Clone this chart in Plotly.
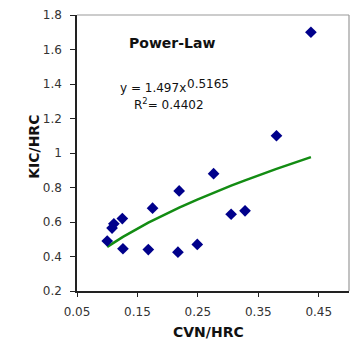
import numpy as np
import plotly.graph_objects as go

cvn_hrc = [0.100, 0.108, 0.111, 0.125, 0.126, 0.168, 0.175, 0.217, 0.219, 0.249,
           0.276, 0.305, 0.328, 0.380, 0.437]
kic_hrc = [0.49, 0.565, 0.59, 0.62, 0.445, 0.44, 0.68, 0.425, 0.78, 0.47,
           0.88, 0.645, 0.665, 1.10, 1.70]
fit_a = 1.497
fit_b = 0.5165
fit_r2 = 0.4402

xs = np.array(sorted(cvn_hrc))
trend = fit_a * xs ** fit_b

fig = go.Figure()
fig.add_trace(go.Scatter(x=xs, y=trend, mode="lines",
                         line=dict(color="#138c13", width=2.5), hoverinfo="skip"))
fig.add_trace(go.Scatter(x=cvn_hrc, y=kic_hrc, mode="markers",
                         marker=dict(symbol="diamond", size=9, color="#00008b")))

font = "DejaVu Sans, sans-serif"
dark = "#111111"
L, R, T, B, W, H = 77, 2, 15, 49, 351, 340
pw, ph = W - L - R, H - T - B


def px(x):
    return (x - L) / pw


def py(y):
    return (H - B - y) / ph


fig.update_layout(
    width=W, height=H,
    margin=dict(l=L, r=R, t=T, b=B),
    paper_bgcolor="white", plot_bgcolor="white",
    showlegend=False,
    font=dict(family=font, size=12, color="#333333"),
    xaxis=dict(range=[0.05, 0.5], tick0=0.05, dtick=0.1, showgrid=False, zeroline=False,
               showline=True, linecolor="#222222", linewidth=1.5,
               ticks="outside", ticklen=4, tickcolor="#222222", ticklabelstandoff=5),
    yaxis=dict(range=[0.2, 1.8], dtick=0.2, showgrid=False, zeroline=False,
               showline=True, linecolor="#222222", linewidth=1.5,
               ticks="outside", ticklen=5, tickcolor="#222222", ticklabelstandoff=6),
    shapes=[
        dict(type="line", xref="paper", yref="paper", x0=0, x1=1, y0=1, y1=1,
             line=dict(color="#999999", width=1.2)),
        dict(type="line", xref="paper", yref="paper", x0=1, x1=1, y0=0, y1=1,
             line=dict(color="#999999", width=1.2)),
    ],
    annotations=[
        dict(x=0.2068, y=1.639, xref="x", yref="y", text="<b>Power-Law</b>", showarrow=False,
             font=dict(size=14, color=dark)),
        dict(x=0.1752, y=1.377, xref="x", yref="y",
             text="y = %.3fx" % fit_a, showarrow=False,
             font=dict(size=12, color=dark)),
        dict(x=0.2675, y=1.399, xref="x", yref="y",
             text="%.4f" % fit_b, showarrow=False,
             font=dict(size=12, color=dark)),
        dict(x=0.2024, y=1.283, xref="x", yref="y",
             text="R<sup>2</sup>= %.4f" % fit_r2, showarrow=False,
             font=dict(size=12, color=dark)),
        dict(x=px(208.5), y=py(331.7), xref="paper", yref="paper",
             xanchor="center", yanchor="middle", text="<b>CVN/HRC</b>", showarrow=False,
             font=dict(size=14, color=dark)),
        dict(x=px(33.8), y=py(147), xref="paper", yref="paper",
             xanchor="center", yanchor="middle", text="<b>KIC/HRC</b>", textangle=-90,
             showarrow=False, font=dict(size=14, color=dark)),
    ],
)
fig.write_html("out.html")
